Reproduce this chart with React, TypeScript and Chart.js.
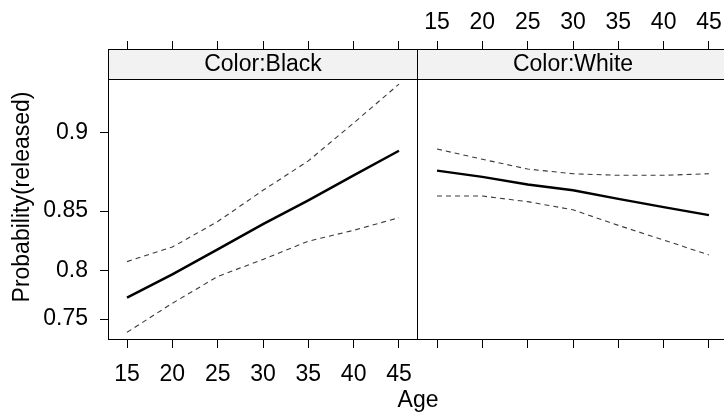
import React, { useEffect, useRef } from 'react';
import { Chart, registerables } from 'chart.js';

Chart.register(...registerables);

// ---- data (probabilities) ----
const ages = [15, 20, 25, 30, 35, 40, 45];
const blackFit = [0.773, 0.796, 0.819, 0.84, 0.858, 0.875, 0.89];
const blackLower = [0.735, 0.767, 0.794, 0.81, 0.826, 0.835, 0.845];
const blackUpper = [0.808, 0.821, 0.842, 0.865, 0.884, 0.905, 0.923];
const whiteFit = [0.878, 0.874, 0.869, 0.865, 0.859, 0.853, 0.847];
const whiteLower = [0.861, 0.861, 0.857, 0.851, 0.839, 0.827, 0.814];
const whiteUpper = [0.891, 0.885, 0.879, 0.876, 0.875, 0.875, 0.876];

const xTicks = [15, 20, 25, 30, 35, 40, 45];
const yTickValues = [0.75, 0.8, 0.85, 0.9];
const yTickLabels = ['0.75', '0.8', '0.85', '0.9'];
const panelLabels = ['Color:Black', 'Color:White'];
const xTitle = 'Age';
const yTitle = 'Probability(released)';

// ---- scale settings ----
const logit = (p: number) => Math.log(p / (1 - p));
const X_MIN = 12.9;
const X_MAX = 47.1;
const Y_MIN = 0.9807; // logit units (bottom of panel)
const Y_MAX = 2.6908; // logit units (top of strip)

const FAMILY = '"Liberation Sans", Arial, Helvetica, sans-serif';
const FONT = { family: FAMILY, size: 23 };

function series(vals: number[]) {
  return ages.map((a, i) => ({ x: a, y: logit(vals[i]) }));
}

function datasets(fit: number[], lo: number[], hi: number[]) {
  const dashed = {
    borderColor: '#3a3a3a',
    borderWidth: 1.1,
    borderDash: [5, 4],
    pointRadius: 0,
    tension: 0,
    fill: false,
  };
  return [
    { ...dashed, data: series(lo) },
    { ...dashed, data: series(hi) },
    {
      data: series(fit),
      borderColor: '#000',
      borderWidth: 2.5,
      pointRadius: 0,
      tension: 0,
      fill: false,
    },
  ];
}

function xAxis(position: 'top' | 'bottom', showLabels: boolean) {
  return {
    type: 'linear',
    position,
    min: X_MIN,
    max: X_MAX,
    afterBuildTicks: (s: any) => {
      s.ticks = xTicks.map((v) => ({ value: v }));
    },
    afterFit: (s: any) => {
      s.height = position === 'top' ? 49 : 77;
    },
    grid: {
      drawOnChartArea: false,
      drawTicks: true,
      tickLength: position === 'top' ? 8 : 9,
      color: '#000',
      lineWidth: 1,
    },
    border: { display: true, color: '#000', width: 1 },
    ticks: {
      autoSkip: false,
      maxRotation: 0,
      minRotation: 0,
      padding: position === 'top' ? 5 : 13,
      font: FONT,
      color: '#000',
      callback: (v: any) => (showLabels ? String(v) : ''),
    },
  };
}

function panelPlugin(id: string, label: string, isLeft: boolean) {
  return {
    id,
    afterDraw(chart: any) {
      const { ctx, chartArea: a } = chart;
      ctx.save();
      const stripTop = a.top;
      const stripBottom = a.top + 30;
      ctx.fillStyle = '#f2f2f2';
      ctx.fillRect(a.left, stripTop, a.right - a.left, stripBottom - stripTop);
      ctx.strokeStyle = '#000';
      ctx.lineWidth = 1;
      ctx.beginPath();
      ctx.moveTo(a.left, stripTop + 0.5);
      ctx.lineTo(a.right, stripTop + 0.5);
      ctx.moveTo(a.left, stripBottom + 0.5);
      ctx.lineTo(a.right, stripBottom + 0.5);
      if (isLeft) {
        ctx.moveTo(a.left + 0.5, a.top);
        ctx.lineTo(a.left + 0.5, a.bottom + 1);
      }
      ctx.moveTo(a.right - 0.5, a.top);
      ctx.lineTo(a.right - 0.5, a.bottom + 1);
      ctx.stroke();

      ctx.fillStyle = '#000';
      ctx.font = `${FONT.size}px ${FAMILY}`;
      ctx.textAlign = 'center';
      ctx.textBaseline = 'middle';
      ctx.fillText(label, (a.left + a.right) / 2, stripTop + 16);

      if (isLeft) {
        // x title centred under both panels
        ctx.fillText(xTitle, 418, 401);
        // y title
        ctx.save();
        ctx.translate(23, 197);
        ctx.rotate(-Math.PI / 2);
        ctx.fillText(yTitle, 0, 0);
        ctx.restore();
      }
      ctx.restore();
    },
  };
}

export default function App() {
  const leftRef = useRef<HTMLCanvasElement>(null);
  const rightRef = useRef<HTMLCanvasElement>(null);

  useEffect(() => {
    if (!leftRef.current || !rightRef.current) return;

    const yAxisLeft = {
      type: 'linear',
      position: 'left',
      min: Y_MIN,
      max: Y_MAX,
      afterBuildTicks: (s: any) => {
        s.ticks = yTickValues.map((p) => ({ value: logit(p) }));
      },
      afterFit: (s: any) => {
        s.width = 108;
      },
      grid: {
        drawOnChartArea: false,
        drawTicks: true,
        tickLength: 8,
        color: '#000',
        lineWidth: 1,
      },
      border: { display: true, color: '#000', width: 1 },
      ticks: {
        padding: 12,
        font: FONT,
        color: '#000',
        callback: (_v: any, i: number) => yTickLabels[i],
      },
    };

    const left = new Chart(leftRef.current, {
      type: 'line',
      data: { datasets: datasets(blackFit, blackLower, blackUpper) as any },
      options: {
        animation: false,
        responsive: false,
        events: [],
        layout: { padding: { left: 0, right: 306, top: 0, bottom: 0 } },
        plugins: { legend: { display: false }, tooltip: { enabled: false } },
        scales: {
          x: xAxis('bottom', true) as any,
          xTop: xAxis('top', false) as any,
          y: yAxisLeft as any,
        },
      },
      plugins: [panelPlugin('panelLeft', panelLabels[0], true)],
    });

    const right = new Chart(rightRef.current, {
      type: 'line',
      data: { datasets: datasets(whiteFit, whiteLower, whiteUpper) as any },
      options: {
        animation: false,
        responsive: false,
        events: [],
        layout: { padding: { left: 10, right: 10, top: 0, bottom: 0 } },
        plugins: { legend: { display: false }, tooltip: { enabled: false } },
        scales: {
          x: xAxis('bottom', false) as any,
          xTop: xAxis('top', true) as any,
          y: { type: 'linear', display: false, min: Y_MIN, max: Y_MAX } as any,
        },
      },
      plugins: [panelPlugin('panelRight', panelLabels[1], false)],
    });

    return () => {
      left.destroy();
      right.destroy();
    };
  }, []);

  return (
    <div
      style={{
        position: 'fixed',
        left: 0,
        top: 0,
        width: 724,
        height: 416,
        overflow: 'hidden',
        background: '#fff',
      }}
    >
      <canvas
        ref={leftRef}
        width={724}
        height={416}
        style={{ position: 'absolute', left: 0, top: 0, width: 724, height: 416 }}
      />
      <canvas
        ref={rightRef}
        width={330}
        height={416}
        style={{ position: 'absolute', left: 408, top: 0, width: 330, height: 416 }}
      />
    </div>
  );
}
